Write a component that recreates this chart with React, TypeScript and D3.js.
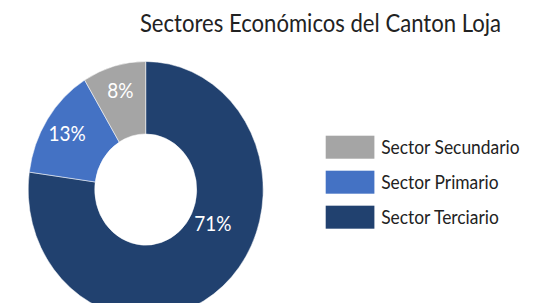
import React, { useEffect, useRef } from "react";
import * as d3 from "d3";

const sectors = ["Sector Terciario", "Sector Primario", "Sector Secundario"];
const values = [71, 13, 8];
const colors = ["#21416f", "#4472c4", "#a5a5a5"];
const legendOrder = ["Sector Secundario", "Sector Primario", "Sector Terciario"];
const title = "Sectores Económicos del Canton Loja";

const App = () => {
  const ref = useRef<SVGSVGElement | null>(null);

  useEffect(() => {
    const svg = d3.select(ref.current);
    svg.selectAll("*").remove();

    const width = 547;
    const height = 303;
    const stretch = 1.09;
    const font = "Lato, 'Open Sans', sans-serif";

    svg.attr("width", width).attr("height", height);

    const root = svg.append("g").attr("transform", `scale(1, ${stretch})`);

    root
      .append("text")
      .attr("x", 320.5)
      .attr("y", 29.6)
      .attr("text-anchor", "middle")
      .attr("font-family", font)
      .attr("font-size", 22.1)
      .attr("fill", "#222")
      .text(title);

    const cx = 145.7;
    const cy = 173.9;
    const outer = 117.5;
    const inner = 51;

    const pie = d3
      .pie<number>()
      .sort(null)
      .value((d) => d);
    const arcs = pie(values);

    const arc = d3.arc<d3.PieArcDatum<number>>().innerRadius(inner).outerRadius(outer);

    const g = root.append("g").attr("transform", `translate(${cx},${cy})`);

    g.selectAll("path")
      .data(arcs)
      .enter()
      .append("path")
      .attr("d", arc)
      .attr("fill", (d, i) => colors[i])
      .attr("stroke", "#fff")
      .attr("stroke-width", 0.5);

    g.selectAll("text.lbl")
      .data(arcs)
      .enter()
      .append("text")
      .attr("class", "lbl")
      .attr("transform", (d, i) => {
        let a = (d.startAngle + d.endAngle) / 2;
        let r = 94;
        if (i === 0) {
          // large slice: label sits right of the hole, like the original
          a = (115 * Math.PI) / 180;
          r = 74;
        }
        return `translate(${r * Math.sin(a)},${-r * Math.cos(a)})`;
      })
      .attr("text-anchor", "middle")
      .attr("dy", "0.35em")
      .attr("font-family", font)
      .attr("font-size", 19)
      .attr("fill", "#fff")
      .text((d) => `${d.data}%`);

    const legend = root.append("g").attr("transform", "translate(325.7,124.5)");
    const row = 32.1;

    legendOrder.forEach((name, k) => {
      const i = sectors.indexOf(name);
      const item = legend.append("g").attr("transform", `translate(0,${k * row})`);
      item
        .append("rect")
        .attr("width", 48.7)
        .attr("height", 21.1)
        .attr("fill", colors[i]);
      item
        .append("text")
        .attr("x", 55.5)
        .attr("y", 10.6)
        .attr("dy", "0.35em")
        .attr("font-family", font)
        .attr("font-size", 17.4)
        .attr("fill", "#222")
        .text(name);
    });
  }, []);

  return (
    <svg
      ref={ref}
      style={{ position: "absolute", left: 0, top: 0, background: "#fff" }}
    />
  );
};

export default App;
